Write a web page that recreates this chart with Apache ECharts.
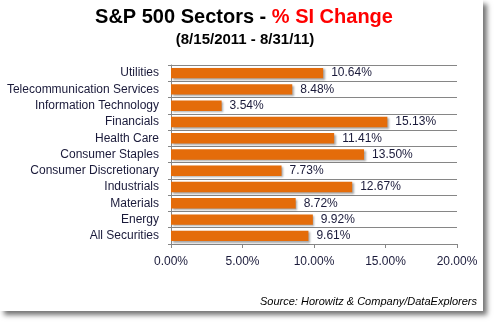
<!DOCTYPE html>
<html><head><meta charset="utf-8">
<script src="https://cdn.jsdelivr.net/npm/echarts@6/dist/echarts.min.js"></script>
<style>
html,body{margin:0;padding:0;background:#fff;}
#frame{position:absolute;left:0;top:0;width:483px;height:311px;background:#fff;box-shadow:4px 4px 5px rgba(0,0,0,0.55);}
#c{position:absolute;left:0;top:0;width:498px;height:327px;}
</style></head>
<body>
<div id="frame"></div>
<div id="c"></div>
<script>
const categories = ['Utilities','Telecommunication Services','Information Technology','Financials','Health Care','Consumer Staples','Consumer Discretionary','Industrials','Materials','Energy','All Securities'];
const values = [10.64, 8.48, 3.54, 15.13, 11.41, 13.50, 7.73, 12.67, 8.72, 9.92, 9.61];
const xTicks = [0, 5, 10, 15, 20];

const chart = echarts.init(document.getElementById('c'), null, {renderer:'canvas'});
const font = 'Liberation Sans';
chart.setOption({
  backgroundColor: 'transparent',
  animation: false,
  title: [
    {text: '{a|S&P 500 Sectors - }{b|% SI Change}', left: 239, textAlign: 'center', top: 2,
     textStyle: {rich: {a: {fontFamily: font, fontSize: 20, fontWeight: 'bold', color: '#000'},
                        b: {fontFamily: font, fontSize: 20, fontWeight: 'bold', color: '#FF0000'}}}},
    {text: '(8/15/2011 - 8/31/11)', left: 240, textAlign: 'center', top: 27,
     textStyle: {fontFamily: font, fontSize: 15, fontWeight: 'bold', color: '#000'}},
    {text: 'Source: Horowitz & Company/DataExplorers', right: 16, top: 291,
     textStyle: {fontFamily: font, fontSize: 11, fontStyle: 'italic', fontWeight: 'normal', color: '#000'}}
  ],
  grid: {left: 171, right: 41, top: 65, bottom: 83, containLabel: false},
  xAxis: {
    type: 'value', min: xTicks[0], max: xTicks[xTicks.length-1], interval: 5,
    axisLine: {show: true, lineStyle: {color: '#868686', width: 1}},
    axisTick: {show: true, length: 4, lineStyle: {color: '#868686'}},
    splitLine: {show: false},
    axisLabel: {formatter: v => v.toFixed(2) + '%', fontFamily: font, fontSize: 12, color: '#1a1a3a', margin: 12}
  },
  yAxis: {
    type: 'category', data: categories, inverse: true,
    axisLine: {show: true, lineStyle: {color: '#868686', width: 1}},
    axisTick: {show: true, length: 3, lineStyle: {color: '#868686'}},
    splitLine: {show: true, lineStyle: {color: '#868686', width: 1}},
    axisLabel: {fontFamily: font, fontSize: 12, color: '#1a1a3a', margin: 12}
  },
  series: [{
    type: 'bar', data: values, barCategoryGap: '36%',
    itemStyle: {color: '#E46C0A', shadowColor: 'rgba(0,0,0,0.35)', shadowBlur: 2, shadowOffsetX: 1.5, shadowOffsetY: 1.5},
    label: {show: true, position: 'right', distance: 8, formatter: p => p.value.toFixed(2) + '%',
            fontFamily: font, fontSize: 12, color: '#1a1a3a'}
  }]
});
</script>
</body></html>
